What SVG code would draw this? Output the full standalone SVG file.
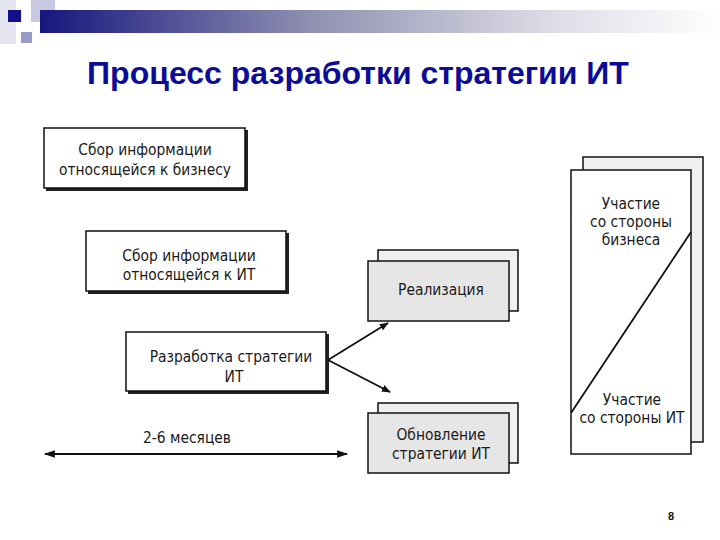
<svg xmlns="http://www.w3.org/2000/svg" width="720" height="540" viewBox="0 0 720 540">
<defs>
<linearGradient id="bar" x1="0" y1="0" x2="1" y2="0">
<stop offset="0" stop-color="#16167e"/>
<stop offset="0.4" stop-color="#9090b2"/>
<stop offset="0.75" stop-color="#dcdce6"/>
<stop offset="1" stop-color="#ffffff"/>
</linearGradient>
<marker id="ah" viewBox="0 0 10 10" refX="9" refY="5" markerWidth="9" markerHeight="9" orient="auto-start-reverse" markerUnits="userSpaceOnUse">
<path d="M0,1 L10,5 L0,9 Z" fill="#111"/>
</marker>
<marker id="ah2" viewBox="0 0 10 10" refX="9" refY="5" markerWidth="13" markerHeight="11" orient="auto-start-reverse" markerUnits="userSpaceOnUse">
<path d="M0,1.5 L10,5 L0,8.5 Z" fill="#111"/>
</marker>
</defs>
<style>
.box{fill:#fff;stroke:#111;stroke-width:1.5}
.shadow{fill:#222}
.grey{fill:#e6e6e6;stroke:#111;stroke-width:1.5}
.back{fill:#f0f0f0;stroke:#111;stroke-width:1.5}
.t{font-family:"DejaVu Sans Condensed","DejaVu Sans",sans-serif;font-size:15.4px;fill:#1a1a1a;text-anchor:middle}
.line{stroke:#111;stroke-width:1.8;fill:none}
</style>
<rect width="720" height="540" fill="#fff"/>
<g id="decor">
<rect x="0" y="0" width="16" height="44" fill="#e6e6f2"/>
<rect x="31" y="0" width="24" height="22" fill="#c8c8e0"/>
<rect x="40" y="10" width="680" height="23" fill="url(#bar)"/>
<rect x="8" y="10" width="13" height="12" fill="#10108a"/>
<rect x="21" y="32" width="11" height="11" fill="#9a9ac8"/>
</g>
<text id="title" x="358" y="84" font-family="Liberation Sans,Arial,sans-serif" font-weight="bold" font-size="32" fill="#0c0c96" text-anchor="middle">Процесс разработки стратегии ИТ</text>
<g id="n1">
<rect x="46" y="130" width="202" height="61" class="shadow"/>
<rect x="44" y="128" width="201" height="60" class="box"/>
<text x="145" y="155" class="t">Сбор информации</text>
<text x="145" y="175" class="t">относящейся к бизнесу</text>
</g>
<g id="n2">
<rect x="88" y="233" width="201" height="61" class="shadow"/>
<rect x="86" y="231" width="200" height="60" class="box"/>
<text x="189" y="261" class="t">Сбор информации</text>
<text x="189" y="280" class="t">относящейся к ИТ</text>
</g>
<g id="n3">
<rect x="128" y="334" width="201" height="60" class="shadow"/>
<rect x="126" y="332" width="200" height="59" class="box"/>
<text x="231" y="362" class="t">Разработка стратегии</text>
<text x="234" y="382" class="t">ИТ</text>
</g>
<g id="n4">
<rect x="378" y="250" width="140" height="61" class="back"/>
<rect x="368" y="261" width="141" height="60" class="grey"/>
<text x="441" y="295" class="t">Реализация</text>
</g>
<g id="n5">
<rect x="378" y="403" width="140" height="60" class="back"/>
<rect x="368" y="413" width="141" height="60" class="grey"/>
<text x="441" y="440" class="t">Обновление</text>
<text x="441" y="459" class="t">стратегии ИТ</text>
</g>
<g id="n6">
<rect x="583" y="157" width="120" height="285" class="back"/>
<rect x="571" y="170" width="120" height="284" class="box"/>
<text x="631" y="209" class="t">Участие</text>
<text x="631" y="227" class="t">со стороны</text>
<text x="631" y="245" class="t">бизнеса</text>
<text x="632" y="405" class="t">Участие</text>
<text x="632" y="423" class="t">со стороны ИТ</text>
<line x1="571" y1="413" x2="691" y2="232" class="line" stroke-width="1.5"/>
</g>
<g id="connectors">
<line x1="328" y1="360" x2="388" y2="323" class="line" marker-end="url(#ah)"/>
<line x1="328" y1="360" x2="390" y2="392" class="line" marker-end="url(#ah)"/>
<line x1="45" y1="454" x2="347" y2="454" class="line" stroke-width="2" marker-start="url(#ah2)" marker-end="url(#ah2)"/>
</g>
<text x="187" y="443" class="t">2-6 месяцев</text>
<text x="671" y="520" font-family="Liberation Sans,Arial,sans-serif" font-weight="bold" font-size="11" fill="#111" text-anchor="middle">8</text>
</svg>
